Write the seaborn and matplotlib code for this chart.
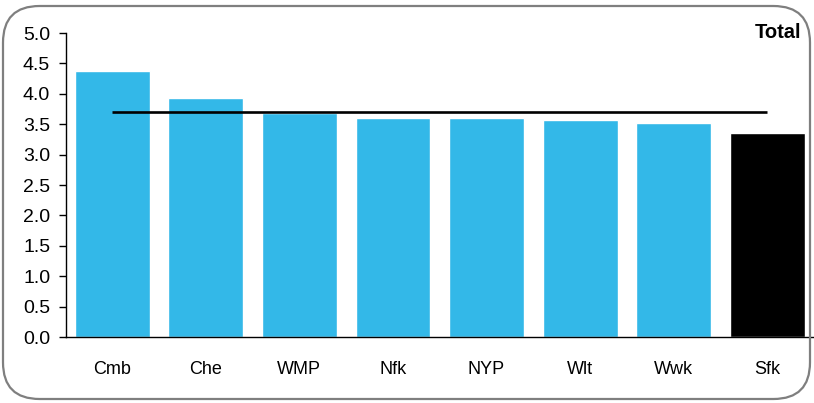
import matplotlib
matplotlib.use("Agg")
import matplotlib.pyplot as plt
from matplotlib.patches import FancyBboxPatch
import seaborn as sns
import pandas as pd

# Values
areas = ["Cmb", "Che", "WMP", "Nfk", "NYP", "Wlt", "Wwk", "Sfk"]
scores = [4.38, 3.93, 3.69, 3.60, 3.60, 3.57, 3.52, 3.36]
highlight = ["other"] * 7 + ["Sfk"]
average = 3.70
title = "Total"

df = pd.DataFrame({"area": areas, "score": scores, "group": highlight})

sns.set_style("white")
plt.rcParams["font.family"] = ["Liberation Sans", "DejaVu Sans"]
plt.rcParams["text.color"] = "black"
plt.rcParams["xtick.color"] = "black"
plt.rcParams["ytick.color"] = "black"

fig = plt.figure(figsize=(8.14, 4.03), dpi=100)
ax = fig.add_axes([65.5 / 814, 66 / 403, 748.5 / 814, 304 / 403])

sns.barplot(data=df, x="area", y="score", hue="group",
            palette={"other": "#33B8E8", "Sfk": "#000000"},
            width=0.8, dodge=False, legend=False, ax=ax, saturation=1)

# average line from first to last category centre
ax.plot([0, len(areas) - 1], [average, average], color="black", lw=1.9,
        solid_capstyle="butt")

ax.set_ylim(0, 5.0)
ax.set_yticks([i * 0.5 for i in range(11)])
ax.set_yticklabels([f"{i * 0.5:.1f}" for i in range(11)], fontsize=14)
ax.tick_params(axis="y", left=True, length=5, width=1, color="black",
               labelcolor="black", pad=6)
ax.tick_params(axis="x", bottom=False, labelsize=13, labelcolor="black", pad=14)
ax.set_xlabel("")
ax.set_ylabel("")
ax.set_xlim(-0.5, len(areas) - 0.5)

for side in ["top", "right"]:
    ax.spines[side].set_visible(False)
for side in ["left", "bottom"]:
    ax.spines[side].set_color("black")
    ax.spines[side].set_linewidth(1)

fig.text(801 / 814, 1 - 33 / 403, title, ha="right", va="center",
         fontsize=14.5, fontweight="bold", color="black")

# rounded frame around the chart
frame = FancyBboxPatch((3 / 814, 4 / 403), 807 / 814, 393 / 403,
                       boxstyle="round,pad=0,rounding_size=0.045",
                       transform=fig.transFigure, fill=False,
                       edgecolor="#7f7f7f", linewidth=1.6,
                       mutation_aspect=814 / 403)
fig.patches.append(frame)

fig.savefig("out.png", dpi=100)
